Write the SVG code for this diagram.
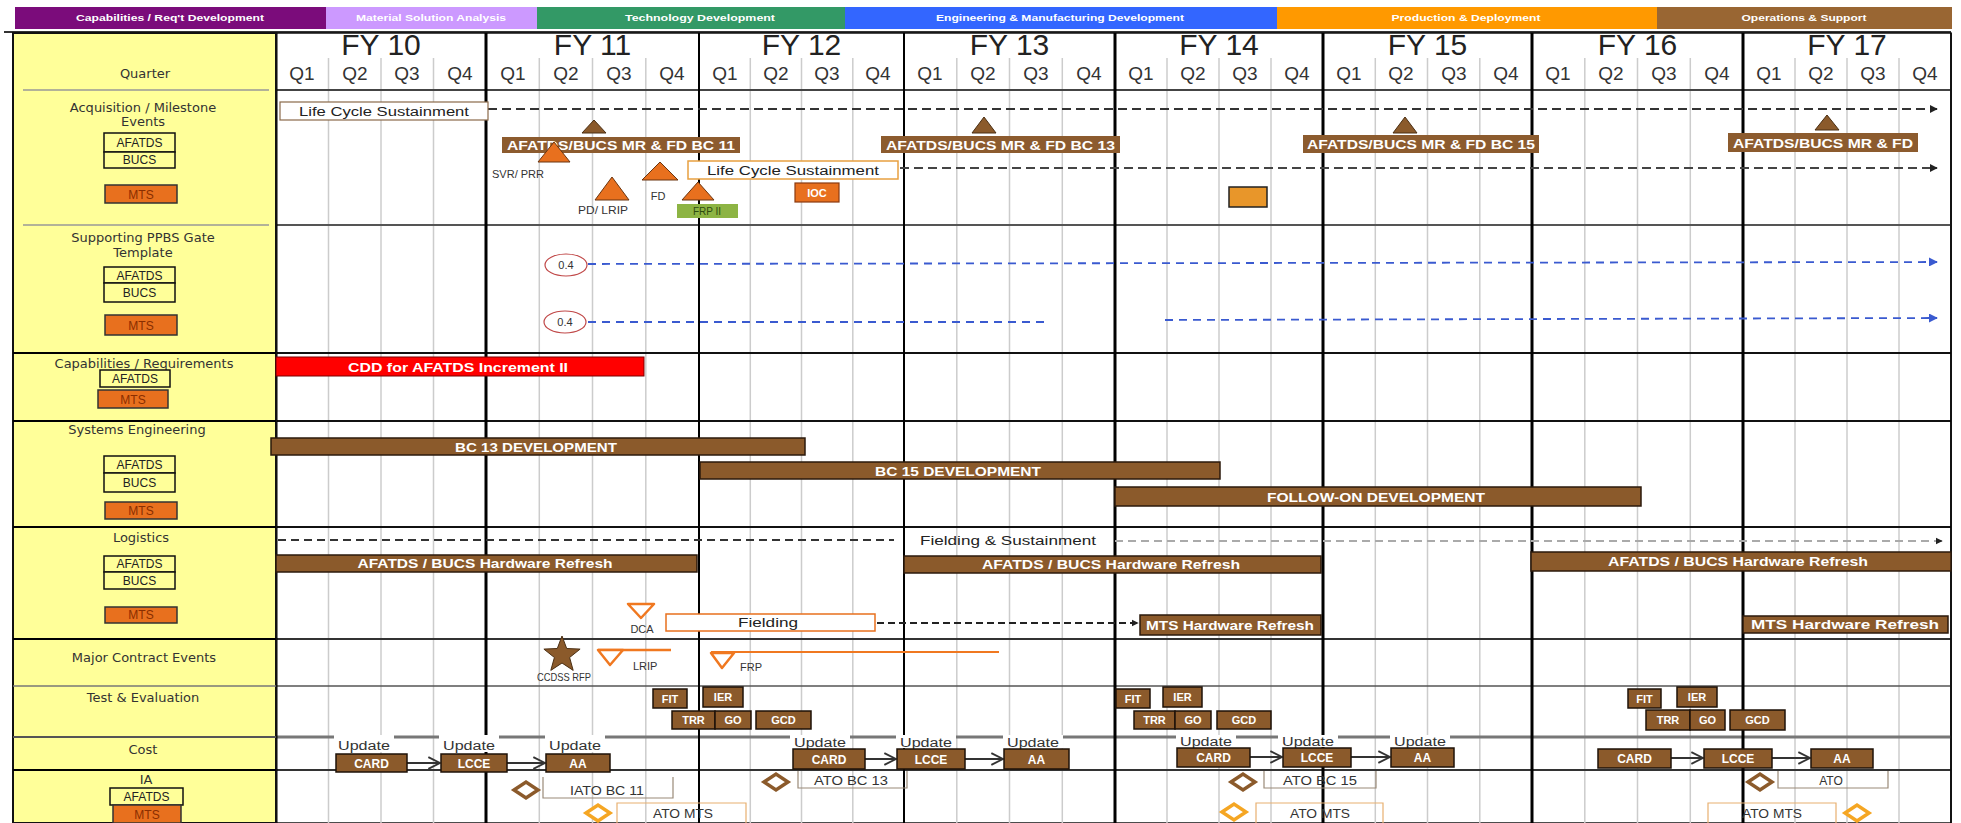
<svg xmlns="http://www.w3.org/2000/svg" width="1961" height="823" viewBox="0 0 1961 823">
<style>
text{font-family:"Liberation Sans",Arial,sans-serif;}
.lab{font-family:"DejaVu Sans",sans-serif;font-size:13px;fill:#333;text-anchor:middle;}
.fy{font-size:30px;fill:#222;text-anchor:middle;}
.q{font-size:19px;fill:#333;text-anchor:middle;}
.bn{font-size:9px;font-weight:bold;fill:#fff;text-anchor:middle;}
.bar{fill:#8B5A2B;stroke:#2b1a0c;stroke-width:1.5;}
.lbar{fill:#8C5B2E;}
.wt{fill:#fff;font-weight:bold;text-anchor:middle;font-size:13px;}
.sm{font-size:11px;fill:#333;text-anchor:middle;}
.otri{fill:#E8701E;stroke:#6b3510;stroke-width:1;}
.btri{fill:#8B5A2B;stroke:#4a2e12;stroke-width:1;}
.oline{fill:none;stroke:#F07820;stroke-width:2.5;}
.ybox{fill:#FFFF99;stroke:#111;stroke-width:1.5;}
.ybt{font-size:12px;fill:#222;text-anchor:middle;}
.mts{fill:#E8701E;stroke:#333;stroke-width:1.5;}
.mtst{fill:#8a2e00;font-size:12px;text-anchor:middle;}
.qln{stroke:#cccccc;stroke-width:1.5;}
.fyl{stroke:#000;stroke-width:3;}
.tb{fill:#8B5A2B;stroke:#1e1208;stroke-width:1.5;}
.tbt{fill:#fff;font-weight:bold;font-size:11px;text-anchor:middle;}
.cbt{fill:#fff;font-weight:bold;font-size:12px;text-anchor:middle;}
.dia-b{fill:#fff;stroke:#8B5A2B;stroke-width:3.5;}
.dia-o{fill:#fff;stroke:#F5A623;stroke-width:3.5;}
.brk{fill:none;stroke:#9a8a78;stroke-width:1.2;}
.upd{font-size:12px;fill:#333;text-anchor:middle;}
.wbg{fill:#fff;}
</style>
<defs>
<marker id="ah" viewBox="0 0 10 10" refX="9" refY="5" markerWidth="4" markerHeight="4" orient="auto"><path d="M0,0 L10,5 L0,10 z" fill="#222"/></marker>
<marker id="ahb" viewBox="0 0 10 10" refX="9" refY="5" markerWidth="5" markerHeight="5" orient="auto"><path d="M0,0 L10,5 L0,10 z" fill="#3a5ad0"/></marker>
<marker id="chev" viewBox="0 0 12 12" refX="11" refY="6" markerWidth="7" markerHeight="7" orient="auto"><path d="M1,1 L11,6 L1,11" fill="none" stroke="#333" stroke-width="1.6"/></marker>
</defs>

<rect x="0" y="0" width="1961" height="823" fill="#fff"/>

<g id="banner">
<rect x="15" y="7" width="311" height="22" fill="#7B0C7B"/>
<rect x="326" y="7" width="211" height="22" fill="#CC99FF"/>
<rect x="537" y="7" width="308" height="22" fill="#339966"/>
<rect x="845" y="7" width="432" height="22" fill="#3366FF"/>
<rect x="1277" y="7" width="380" height="22" fill="#FF9900"/>
<rect x="1657" y="7" width="295" height="22" fill="#996633"/>
<text class="bn" x="170" y="21" textLength="188" lengthAdjust="spacingAndGlyphs">Capabilities / Req't Development</text>
<text class="bn" x="431" y="21" textLength="150" lengthAdjust="spacingAndGlyphs" fill="#eadcff">Material Solution Analysis</text>
<text class="bn" x="700" y="21" textLength="150" lengthAdjust="spacingAndGlyphs">Technology Development</text>
<text class="bn" x="1060" y="21" textLength="248" lengthAdjust="spacingAndGlyphs">Engineering &amp; Manufacturing Development</text>
<text class="bn" x="1466" y="21" textLength="149" lengthAdjust="spacingAndGlyphs" fill="#fff6d8">Production &amp; Deployment</text>
<text class="bn" x="1804" y="21" textLength="125" lengthAdjust="spacingAndGlyphs">Operations &amp; Support</text>
</g>

<g id="grid">
<line x1="4" y1="32" x2="1951" y2="32" stroke="#333" stroke-width="2"/>
<rect x="276" y="33" width="1675" height="790" fill="#fff" stroke="#111" stroke-width="1.5"/>
<g class="qln">
<line x1="328.5" y1="58" x2="328.5" y2="823"/><line x1="381" y1="58" x2="381" y2="823"/><line x1="433.5" y1="58" x2="433.5" y2="823"/>
<line x1="539.3" y1="58" x2="539.3" y2="823"/><line x1="592.5" y1="58" x2="592.5" y2="823"/><line x1="645.8" y1="58" x2="645.8" y2="823"/>
<line x1="750.3" y1="58" x2="750.3" y2="823"/><line x1="801.5" y1="58" x2="801.5" y2="823"/><line x1="852.8" y1="58" x2="852.8" y2="823"/>
<line x1="956.8" y1="58" x2="956.8" y2="823"/><line x1="1009.5" y1="58" x2="1009.5" y2="823"/><line x1="1062.3" y1="58" x2="1062.3" y2="823"/>
<line x1="1167" y1="58" x2="1167" y2="823"/><line x1="1219" y1="58" x2="1219" y2="823"/><line x1="1271" y1="58" x2="1271" y2="823"/>
<line x1="1375.3" y1="58" x2="1375.3" y2="823"/><line x1="1427.5" y1="58" x2="1427.5" y2="823"/><line x1="1479.8" y1="58" x2="1479.8" y2="823"/>
<line x1="1584.8" y1="58" x2="1584.8" y2="823"/><line x1="1637.5" y1="58" x2="1637.5" y2="823"/><line x1="1690.3" y1="58" x2="1690.3" y2="823"/>
<line x1="1795" y1="58" x2="1795" y2="823"/><line x1="1847" y1="58" x2="1847" y2="823"/><line x1="1899" y1="58" x2="1899" y2="823"/>
</g>
<line x1="276" y1="90" x2="1951" y2="90" stroke="#444" stroke-width="2"/>
<line x1="276" y1="225" x2="1951" y2="225" stroke="#555" stroke-width="2"/>
<line x1="276" y1="353" x2="1951" y2="353" stroke="#111" stroke-width="2"/>
<line x1="276" y1="421" x2="1951" y2="421" stroke="#111" stroke-width="2"/>
<line x1="276" y1="527" x2="1951" y2="527" stroke="#111" stroke-width="2"/>
<line x1="276" y1="639" x2="1951" y2="639" stroke="#333" stroke-width="2"/>
<line x1="276" y1="686" x2="1951" y2="686" stroke="#555" stroke-width="1.5"/>
<line x1="276" y1="737" x2="1951" y2="737" stroke="#777" stroke-width="3"/>
<line x1="276" y1="770" x2="1951" y2="770" stroke="#333" stroke-width="2"/>
<g class="fyl">
<line x1="276" y1="33" x2="276" y2="823"/>
<line x1="486" y1="33" x2="486" y2="823"/>
<line x1="699" y1="33" x2="699" y2="823" stroke-width="2"/>
<line x1="904" y1="33" x2="904" y2="823" stroke-width="2"/>
<line x1="1115" y1="33" x2="1115" y2="823"/>
<line x1="1323" y1="33" x2="1323" y2="823"/>
<line x1="1532" y1="33" x2="1532" y2="823"/>
<line x1="1743" y1="33" x2="1743" y2="823"/>
<line x1="1951" y1="33" x2="1951" y2="823" stroke-width="1.5"/>
</g>
</g>

<g id="header">
<text class="fy" x="381" y="55">FY 10</text>
<text class="fy" x="592.5" y="55">FY 11</text>
<text class="fy" x="801.5" y="55">FY 12</text>
<text class="fy" x="1009.5" y="55">FY 13</text>
<text class="fy" x="1219" y="55">FY 14</text>
<text class="fy" x="1427.5" y="55">FY 15</text>
<text class="fy" x="1637.5" y="55">FY 16</text>
<text class="fy" x="1847" y="55">FY 17</text>
<text class="q" x="302" y="80">Q1</text><text class="q" x="355" y="80">Q2</text><text class="q" x="407" y="80">Q3</text><text class="q" x="460" y="80">Q4</text>
<text class="q" x="513" y="80">Q1</text><text class="q" x="566" y="80">Q2</text><text class="q" x="619" y="80">Q3</text><text class="q" x="672" y="80">Q4</text>
<text class="q" x="725" y="80">Q1</text><text class="q" x="776" y="80">Q2</text><text class="q" x="827" y="80">Q3</text><text class="q" x="878" y="80">Q4</text>
<text class="q" x="930" y="80">Q1</text><text class="q" x="983" y="80">Q2</text><text class="q" x="1036" y="80">Q3</text><text class="q" x="1089" y="80">Q4</text>
<text class="q" x="1141" y="80">Q1</text><text class="q" x="1193" y="80">Q2</text><text class="q" x="1245" y="80">Q3</text><text class="q" x="1297" y="80">Q4</text>
<text class="q" x="1349" y="80">Q1</text><text class="q" x="1401" y="80">Q2</text><text class="q" x="1454" y="80">Q3</text><text class="q" x="1506" y="80">Q4</text>
<text class="q" x="1558" y="80">Q1</text><text class="q" x="1611" y="80">Q2</text><text class="q" x="1664" y="80">Q3</text><text class="q" x="1717" y="80">Q4</text>
<text class="q" x="1769" y="80">Q1</text><text class="q" x="1821" y="80">Q2</text><text class="q" x="1873" y="80">Q3</text><text class="q" x="1925" y="80">Q4</text>
</g>

<g id="row-labels">
<rect x="13" y="33" width="263" height="790" fill="#FFFF99" stroke="#111" stroke-width="2"/>
<line x1="23" y1="90" x2="269" y2="90" stroke="#999" stroke-width="1.5"/>
<line x1="23" y1="225" x2="269" y2="225" stroke="#999" stroke-width="1.5"/>
<line x1="13" y1="353" x2="276" y2="353" stroke="#000" stroke-width="2"/>
<line x1="13" y1="421" x2="276" y2="421" stroke="#000" stroke-width="2"/>
<line x1="13" y1="527" x2="276" y2="527" stroke="#000" stroke-width="2"/>
<line x1="13" y1="639" x2="276" y2="639" stroke="#000" stroke-width="2"/>
<line x1="13" y1="686" x2="276" y2="686" stroke="#777" stroke-width="1.5"/>
<line x1="13" y1="737" x2="276" y2="737" stroke="#555" stroke-width="2"/>
<line x1="13" y1="770" x2="276" y2="770" stroke="#000" stroke-width="2"/>
<text class="lab" x="145" y="78">Quarter</text>
<text class="lab" x="143" y="112">Acquisition / Milestone</text>
<text class="lab" x="143" y="126">Events</text>
<rect class="ybox" x="104" y="133" width="71" height="19"/><rect class="ybox" x="104" y="152" width="71" height="16"/>
<text class="ybt" x="139.5" y="147">AFATDS</text><text class="ybt" x="139.5" y="164">BUCS</text>
<rect class="mts" x="105" y="185" width="72" height="18"/><text class="mtst" x="141" y="199">MTS</text>
<text class="lab" x="143" y="242">Supporting PPBS Gate</text>
<text class="lab" x="143" y="257">Template</text>
<rect class="ybox" x="104" y="267" width="71" height="16"/><rect class="ybox" x="104" y="283" width="71" height="19"/>
<text class="ybt" x="139.5" y="280">AFATDS</text><text class="ybt" x="139.5" y="297">BUCS</text>
<rect class="mts" x="105" y="315" width="72" height="20"/><text class="mtst" x="141" y="330">MTS</text>
<text class="lab" x="144" y="368">Capabilities / Requirements</text>
<rect class="ybox" x="100" y="370" width="70" height="17"/><text class="ybt" x="135" y="383">AFATDS</text>
<rect class="mts" x="98" y="390" width="70" height="18"/><text class="mtst" x="133" y="404">MTS</text>
<text class="lab" x="137" y="434">Systems Engineering</text>
<rect class="ybox" x="104" y="456" width="71" height="17"/><rect class="ybox" x="104" y="473" width="71" height="19"/>
<text class="ybt" x="139.5" y="469">AFATDS</text><text class="ybt" x="139.5" y="487">BUCS</text>
<rect class="mts" x="105" y="502" width="72" height="17"/><text class="mtst" x="141" y="515">MTS</text>
<text class="lab" x="141" y="542">Logistics</text>
<rect class="ybox" x="104" y="556" width="71" height="16"/><rect class="ybox" x="104" y="572" width="71" height="17"/>
<text class="ybt" x="139.5" y="568">AFATDS</text><text class="ybt" x="139.5" y="585">BUCS</text>
<rect class="mts" x="105" y="607" width="72" height="16"/><text class="mtst" x="141" y="619">MTS</text>
<text class="lab" x="144" y="662">Major Contract Events</text>
<text class="lab" x="143" y="702">Test &amp; Evaluation</text>
<text class="lab" x="143" y="754">Cost</text>
<text class="lab" x="146" y="784">IA</text>
<rect class="ybox" x="110" y="788" width="73" height="17"/><text class="ybt" x="146.5" y="801">AFATDS</text>
<rect class="mts" x="113" y="805" width="68" height="18"/><text class="mtst" x="147" y="819">MTS</text>
</g>

<g id="connectors">
<line x1="488" y1="109" x2="1937" y2="109" stroke="#333" stroke-width="2" stroke-dasharray="9,5" marker-end="url(#ah)"/>
<line x1="900" y1="168" x2="1937" y2="168" stroke="#444" stroke-width="2" stroke-dasharray="9,5" marker-end="url(#ah)"/>
<line x1="588" y1="264" x2="1937" y2="262" stroke="#3a5ad0" stroke-width="1.8" stroke-dasharray="8,6" marker-end="url(#ahb)"/>
<line x1="588" y1="322" x2="1046" y2="322" stroke="#3a5ad0" stroke-width="1.8" stroke-dasharray="8,6"/>
<line x1="1165" y1="320" x2="1937" y2="318" stroke="#3a5ad0" stroke-width="1.8" stroke-dasharray="8,6" marker-end="url(#ahb)"/>
<line x1="278" y1="540" x2="894" y2="540" stroke="#333" stroke-width="1.8" stroke-dasharray="8,5"/>
<line x1="1115" y1="541" x2="1942" y2="541" stroke="#aaa" stroke-width="1.8" stroke-dasharray="8,5" marker-end="url(#ah)"/>
<line x1="877" y1="623" x2="1138" y2="623" stroke="#222" stroke-width="1.8" stroke-dasharray="7,4" marker-end="url(#ah)"/>
<line x1="407" y1="763" x2="440" y2="763" stroke="#333" stroke-width="2" marker-end="url(#chev)"/>
<line x1="507" y1="763" x2="545" y2="763" stroke="#333" stroke-width="2" marker-end="url(#chev)"/>
<line x1="865" y1="759" x2="896" y2="759" stroke="#333" stroke-width="2" marker-end="url(#chev)"/>
<line x1="965" y1="759" x2="1003" y2="759" stroke="#333" stroke-width="2" marker-end="url(#chev)"/>
<line x1="1250" y1="757" x2="1282" y2="757" stroke="#333" stroke-width="2" marker-end="url(#chev)"/>
<line x1="1351" y1="757" x2="1390" y2="757" stroke="#333" stroke-width="2" marker-end="url(#chev)"/>
<line x1="1671" y1="758" x2="1703" y2="758" stroke="#333" stroke-width="2" marker-end="url(#chev)"/>
<line x1="1772" y1="758" x2="1810" y2="758" stroke="#333" stroke-width="2" marker-end="url(#chev)"/>
</g>

<g id="acquisition">
<g id="lcs1"><rect x="280" y="102" width="208" height="18" fill="#fff" stroke="#8a6a4a" stroke-width="1.2"/>
<text x="384" y="115.5" font-size="12" fill="#222" text-anchor="middle" textLength="170" lengthAdjust="spacingAndGlyphs">Life Cycle Sustainment</text></g>
<g id="mr11"><polygon class="btri" points="582,133 594,120 606,133"/>
<rect class="lbar" x="502" y="137" width="238" height="16"/>
<text class="wt" x="621" y="150" textLength="228" lengthAdjust="spacingAndGlyphs">AFATDS/BUCS MR &amp; FD BC 11</text></g>
<g id="mr13"><polygon class="btri" points="972,133 984,117 996,133"/>
<rect class="lbar" x="881" y="136" width="239" height="17"/>
<text class="wt" x="1000.5" y="149.5" textLength="229" lengthAdjust="spacingAndGlyphs">AFATDS/BUCS MR &amp; FD BC 13</text></g>
<g id="mr15"><polygon class="btri" points="1393,133 1405,117 1417,133"/>
<rect class="lbar" x="1303" y="135" width="236" height="18"/>
<text class="wt" x="1421" y="149" textLength="228" lengthAdjust="spacingAndGlyphs">AFATDS/BUCS MR &amp; FD BC 15</text></g>
<g id="mr17"><polygon class="btri" points="1815,130 1827,115 1839,130"/>
<rect class="lbar" x="1728" y="133" width="190" height="19"/>
<text class="wt" x="1823" y="147.5" textLength="180" lengthAdjust="spacingAndGlyphs">AFATDS/BUCS MR &amp; FD</text></g>
<g id="svr"><polygon class="otri" points="538,162 554,142 570,162"/>
<text x="492" y="178" font-size="11" fill="#333" textLength="52" lengthAdjust="spacingAndGlyphs">SVR/ PRR</text></g>
<g id="pdlrip"><polygon class="otri" points="595,200 612,177 629,200"/>
<text class="sm" x="603" y="214" textLength="50" lengthAdjust="spacingAndGlyphs">PD/ LRIP</text></g>
<g id="fd"><polygon class="otri" points="642,180 660,162 678,180"/>
<text class="sm" x="658" y="200">FD</text></g>
<g id="frp"><polygon class="otri" points="682,200 698,182 714,200"/>
<rect x="677" y="204" width="61" height="14" fill="#8DB444"/>
<text x="707" y="215" font-size="10" fill="#2d4a10" text-anchor="middle">FRP II</text></g>
<g id="lcs2"><rect x="688" y="161" width="210" height="18" fill="#fff" stroke="#E8A040" stroke-width="1.5"/>
<text x="793" y="174.5" font-size="12" fill="#222" text-anchor="middle" textLength="172" lengthAdjust="spacingAndGlyphs">Life Cycle Sustainment</text></g>
<g id="ioc"><rect x="795" y="183" width="44" height="19" fill="#E8701E" stroke="#8a3a10" stroke-width="1.2"/>
<text x="817" y="197" font-size="11" font-weight="bold" fill="#fff" text-anchor="middle">IOC</text></g>
<g id="fue"><rect x="1229" y="187" width="38" height="20" fill="#E8962A" stroke="#222" stroke-width="1.5"/></g>
</g>

<g id="supporting">
<g id="g04a"><ellipse cx="566" cy="265" rx="21" ry="11" fill="#fff" stroke="#C04848" stroke-width="1.2"/>
<text class="sm" x="566" y="269">0.4</text></g>
<g id="g04b"><ellipse cx="565" cy="322" rx="21" ry="11" fill="#fff" stroke="#C04848" stroke-width="1.2"/>
<text class="sm" x="565" y="326">0.4</text></g>
</g>

<g id="capabilities">
<rect x="276" y="357" width="368" height="19" fill="#FF0000" stroke="#7a0000" stroke-width="1"/>
<text class="wt" x="458" y="371.5" textLength="220" lengthAdjust="spacingAndGlyphs">CDD for AFATDS Increment II</text>
</g>

<g id="systems">
<g id="bc13"><rect class="bar" x="271" y="438" width="534" height="17"/>
<text class="wt" x="536" y="451.5" textLength="162" lengthAdjust="spacingAndGlyphs">BC 13 DEVELOPMENT</text></g>
<g id="bc15"><rect class="bar" x="700" y="462" width="520" height="17"/>
<text class="wt" x="958" y="475.5" textLength="166" lengthAdjust="spacingAndGlyphs">BC 15 DEVELOPMENT</text></g>
<g id="followon"><rect class="bar" x="1115" y="487" width="526" height="19"/>
<text class="wt" x="1376" y="501.5" textLength="218" lengthAdjust="spacingAndGlyphs">FOLLOW-ON DEVELOPMENT</text></g>
</g>

<g id="logistics">
<g id="fs"><text x="1008" y="544.5" font-size="12" fill="#222" text-anchor="middle" textLength="176" lengthAdjust="spacingAndGlyphs">Fielding &amp; Sustainment</text></g>
<g id="hw1"><rect class="bar" x="276" y="555" width="421" height="17"/>
<text class="wt" x="485" y="568" textLength="255" lengthAdjust="spacingAndGlyphs">AFATDS / BUCS Hardware  Refresh</text></g>
<g id="hw2"><rect class="bar" x="904" y="556" width="417" height="17"/>
<text class="wt" x="1111" y="569" textLength="258" lengthAdjust="spacingAndGlyphs">AFATDS / BUCS Hardware  Refresh</text></g>
<g id="hw3"><rect class="bar" x="1531" y="552" width="420" height="19"/>
<text class="wt" x="1738" y="566" textLength="260" lengthAdjust="spacingAndGlyphs">AFATDS / BUCS Hardware  Refresh</text></g>
<g id="dca"><polygon points="628,604 654,604 641,618" fill="#fff" stroke="#F07820" stroke-width="2.5" stroke-linejoin="round"/>
<text class="sm" x="642" y="633">DCA</text></g>
<g id="fielding"><rect x="666" y="614" width="209" height="17" fill="#fff" stroke="#E8701E" stroke-width="1.5"/>
<text x="768" y="627" font-size="12" fill="#222" text-anchor="middle" textLength="60" lengthAdjust="spacingAndGlyphs">Fielding</text></g>
<g id="mtshw1"><rect class="bar" x="1140" y="615" width="181" height="20"/>
<text class="wt" x="1230" y="629.5" textLength="168" lengthAdjust="spacingAndGlyphs">MTS Hardware  Refresh</text></g>
<g id="mtshw2"><rect class="bar" x="1743" y="616" width="205" height="17"/>
<text class="wt" x="1845" y="629" textLength="188" lengthAdjust="spacingAndGlyphs">MTS Hardware  Refresh</text></g>
</g>

<g id="contract">
<g id="ccdss"><polygon points="562,636 566.7,648.5 580.1,649.1 569.6,657.5 573.2,670.4 562,663 550.8,670.4 554.4,657.5 543.9,649.1 557.3,648.5" fill="#8B5A2B" stroke="#4a2e12" stroke-width="1"/>
<text class="sm" x="564" y="681" textLength="54" lengthAdjust="spacingAndGlyphs">CCDSS RFP</text></g>
<g id="lrip"><line class="oline" x1="598" y1="650" x2="671" y2="650"/>
<polygon points="598,650 623,650 610,665" fill="#fff" stroke="#F07820" stroke-width="2.5" stroke-linejoin="round"/>
<text x="633" y="670" font-size="11" fill="#333">LRIP</text></g>
<g id="frp2"><line x1="711" y1="652" x2="999" y2="652" stroke="#F07820" stroke-width="2"/>
<polygon points="711,653 734,653 722,668" fill="#fff" stroke="#F07820" stroke-width="2.5" stroke-linejoin="round"/>
<text x="740" y="671" font-size="11" fill="#333">FRP</text></g>
</g>

<g id="test-eval">
<g id="te1">
<rect class="tb" x="653" y="689" width="34" height="19"/><text class="tbt" x="670" y="702.5">FIT</text>
<rect class="tb" x="703" y="687" width="40" height="20"/><text class="tbt" x="723" y="701">IER</text>
<rect class="tb" x="672" y="711" width="43" height="18"/><text class="tbt" x="693.5" y="724">TRR</text>
<rect class="tb" x="715" y="711" width="36" height="18"/><text class="tbt" x="733" y="724">GO</text>
<rect class="tb" x="756" y="711" width="55" height="18"/><text class="tbt" x="783.5" y="724">GCD</text>
</g>
<g id="te2">
<rect class="tb" x="1116" y="689" width="34" height="19"/><text class="tbt" x="1133" y="702.5">FIT</text>
<rect class="tb" x="1163" y="687" width="39" height="20"/><text class="tbt" x="1182.5" y="701">IER</text>
<rect class="tb" x="1134" y="711" width="41" height="18"/><text class="tbt" x="1154.5" y="724">TRR</text>
<rect class="tb" x="1175" y="711" width="36" height="18"/><text class="tbt" x="1193" y="724">GO</text>
<rect class="tb" x="1217" y="711" width="54" height="18"/><text class="tbt" x="1244" y="724">GCD</text>
</g>
<g id="te3">
<rect class="tb" x="1628" y="689" width="33" height="19"/><text class="tbt" x="1644.5" y="702.5">FIT</text>
<rect class="tb" x="1677" y="687" width="40" height="20"/><text class="tbt" x="1697" y="701">IER</text>
<rect class="tb" x="1646" y="710" width="44" height="20"/><text class="tbt" x="1668" y="724">TRR</text>
<rect class="tb" x="1690" y="710" width="35" height="20"/><text class="tbt" x="1707.5" y="724">GO</text>
<rect class="tb" x="1730" y="710" width="55" height="20"/><text class="tbt" x="1757.5" y="724">GCD</text>
</g>
</g>

<g id="cost">
<g id="upd-labels">
<rect class="wbg" x="334" y="735" width="60" height="17"/><text class="upd" x="364" y="750" textLength="52" lengthAdjust="spacingAndGlyphs">Update</text>
<rect class="wbg" x="439" y="735" width="60" height="17"/><text class="upd" x="469" y="750" textLength="52" lengthAdjust="spacingAndGlyphs">Update</text>
<rect class="wbg" x="545" y="735" width="60" height="17"/><text class="upd" x="575" y="750" textLength="52" lengthAdjust="spacingAndGlyphs">Update</text>
<rect class="wbg" x="790" y="735" width="60" height="13"/><text class="upd" x="820" y="746.5" textLength="52" lengthAdjust="spacingAndGlyphs">Update</text>
<rect class="wbg" x="896" y="735" width="60" height="13"/><text class="upd" x="926" y="746.5" textLength="52" lengthAdjust="spacingAndGlyphs">Update</text>
<rect class="wbg" x="1003" y="735" width="60" height="13"/><text class="upd" x="1033" y="746.5" textLength="52" lengthAdjust="spacingAndGlyphs">Update</text>
<rect class="wbg" x="1176" y="735" width="60" height="12"/><text class="upd" x="1206" y="745.5" textLength="52" lengthAdjust="spacingAndGlyphs">Update</text>
<rect class="wbg" x="1278" y="735" width="60" height="12"/><text class="upd" x="1308" y="745.5" textLength="52" lengthAdjust="spacingAndGlyphs">Update</text>
<rect class="wbg" x="1390" y="735" width="60" height="12"/><text class="upd" x="1420" y="745.5" textLength="52" lengthAdjust="spacingAndGlyphs">Update</text>
</g>
<g id="cost1">
<rect class="tb" x="336" y="754" width="71" height="18"/><text class="cbt" x="371.5" y="767.5">CARD</text>
<rect class="tb" x="441" y="754" width="66" height="18"/><text class="cbt" x="474" y="767.5">LCCE</text>
<rect class="tb" x="546" y="754" width="64" height="18"/><text class="cbt" x="578" y="767.5">AA</text>
</g>
<g id="cost2">
<rect class="tb" x="793" y="749" width="72" height="20"/><text class="cbt" x="829" y="763.5">CARD</text>
<rect class="tb" x="897" y="749" width="68" height="20"/><text class="cbt" x="931" y="763.5">LCCE</text>
<rect class="tb" x="1004" y="749" width="65" height="20"/><text class="cbt" x="1036.5" y="763.5">AA</text>
</g>
<g id="cost3">
<rect class="tb" x="1177" y="748" width="73" height="19"/><text class="cbt" x="1213.5" y="762">CARD</text>
<rect class="tb" x="1283" y="748" width="68" height="19"/><text class="cbt" x="1317" y="762">LCCE</text>
<rect class="tb" x="1391" y="748" width="63" height="19"/><text class="cbt" x="1422.5" y="762">AA</text>
</g>
<g id="cost4">
<rect class="tb" x="1598" y="749" width="73" height="19"/><text class="cbt" x="1634.5" y="763">CARD</text>
<rect class="tb" x="1704" y="749" width="68" height="19"/><text class="cbt" x="1738" y="763">LCCE</text>
<rect class="tb" x="1811" y="749" width="62" height="19"/><text class="cbt" x="1842" y="763">AA</text>
</g>
</g>

<g id="ia">
<g id="iato11"><polygon class="dia-b" points="514,790 526,782 538,790 526,798"/>
<polyline class="brk" points="543,777 543,798 673,798 673,777"/>
<text x="607" y="794.5" font-size="12" fill="#333" text-anchor="middle" textLength="74" lengthAdjust="spacingAndGlyphs">IATO BC 11</text></g>
<g id="atomts1"><polygon class="dia-o" points="586,813 598,805 610,813 598,821"/>
<polyline points="617,823 617,803 746,803 746,823" fill="none" stroke="#E8B070" stroke-width="1.2"/>
<text x="683" y="818" font-size="12" fill="#333" text-anchor="middle" textLength="60" lengthAdjust="spacingAndGlyphs">ATO MTS</text></g>
<g id="ato13"><polygon class="dia-b" points="764,782 776,774 788,782 776,790"/>
<polyline class="brk" points="798,771 798,788 907,788 907,771"/>
<text x="851" y="785" font-size="12" fill="#333" text-anchor="middle" textLength="74" lengthAdjust="spacingAndGlyphs">ATO BC 13</text></g>
<g id="ato15"><polygon class="dia-b" points="1231,782 1243,774 1255,782 1243,790"/>
<polyline class="brk" points="1264,771 1264,788 1376,788 1376,771"/>
<text x="1320" y="785" font-size="12" fill="#333" text-anchor="middle" textLength="74" lengthAdjust="spacingAndGlyphs">ATO BC 15</text></g>
<g id="atomts2"><polygon class="dia-o" points="1222,812 1234,804 1246,812 1234,820"/>
<polyline points="1256,823 1256,803 1383,803 1383,823" fill="none" stroke="#E8B070" stroke-width="1.2"/>
<text x="1320" y="818" font-size="12" fill="#333" text-anchor="middle" textLength="60" lengthAdjust="spacingAndGlyphs">ATO MTS</text></g>
<g id="ato17"><polygon class="dia-b" points="1748,782 1760,774 1772,782 1760,790"/>
<polyline class="brk" points="1778,771 1778,788 1888,788 1888,771"/>
<text x="1831" y="785" font-size="12" fill="#333" text-anchor="middle">ATO</text></g>
<g id="atomts3"><polygon class="dia-o" points="1845,813 1857,805 1869,813 1857,821"/>
<polyline points="1708,823 1708,803 1836,803 1836,823" fill="none" stroke="#E8B070" stroke-width="1.2"/>
<text x="1772" y="818" font-size="12" fill="#333" text-anchor="middle" textLength="60" lengthAdjust="spacingAndGlyphs">ATO MTS</text></g>
</g>
</svg>
